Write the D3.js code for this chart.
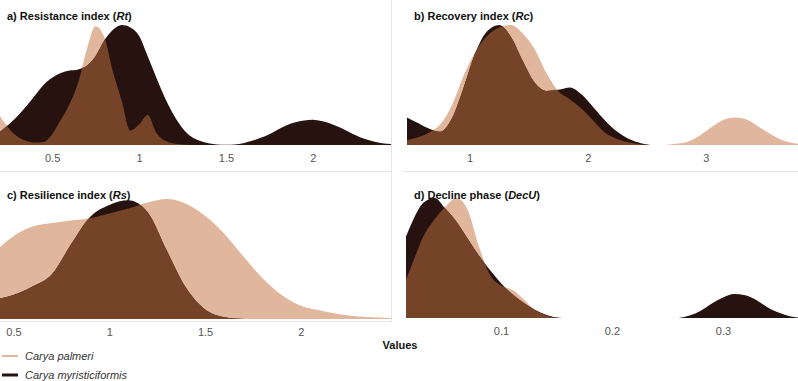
<!DOCTYPE html>
<html>
<head>
<meta charset="utf-8">
<script src="https://cdn.jsdelivr.net/npm/d3@7"></script>
<style>
  body { margin: 0; background: #fff; }
  svg text { font-family: "Liberation Sans", Arial, sans-serif; }
</style>
</head>
<body>
<div id="chart"></div>
<script>
const colPalmeri = "#e0b69c", colMyr = "#26130f", colBoth = "#754328";

// a) Resistance index (Rt)
const rtX = [0.2,0.25,0.3,0.35,0.4,0.45,0.5,0.55,0.6,0.65,0.7,0.75,0.8,0.85,0.9,0.95,1,1.05,1.1,1.15,1.2,1.25,1.3,1.35,1.4,1.45,1.5,1.55,1.6,1.65,1.7,1.75,1.8,1.85,1.9,1.95,2,2.05,2.1,2.15,2.2,2.25,2.3,2.35,2.4,2.45];
const rtMyr = [0.11,0.17,0.24,0.32,0.41,0.5,0.56,0.6,0.62,0.63,0.66,0.74,0.87,0.96,1,0.98,0.91,0.74,0.56,0.39,0.25,0.14,0.07,0.035,0.015,0.005,0.003,0.005,0.015,0.035,0.06,0.09,0.13,0.165,0.19,0.205,0.21,0.2,0.18,0.15,0.115,0.08,0.05,0.03,0.015,0.008];
const rtPalmeri = [0.24,0.14,0.07,0.035,0.02,0.025,0.09,0.21,0.34,0.52,0.8,0.99,0.9,0.61,0.37,0.12,0.17,0.25,0.1,0.035,0.012,0.004,0,
  null,null,null,null,null,null,null,null,null,null,null,null,null,null,null,null,null,null,null,null,null,null,null];
const rtTicks = [0.5, 1, 1.5, 2];

// b) Recovery index (Rc)
const rcX = [0.47,0.55,0.65,0.75,0.85,0.95,1.05,1.15,1.25,1.35,1.45,1.55,1.65,1.75,1.85,1.95,2.05,2.15,2.25,2.35,2.45,2.53,2.59,2.65,2.75,2.85,2.95,3.05,3.15,3.25,3.35,3.45,3.55,3.65,3.78];
const rcMyr = [0.23,0.19,0.14,0.11,0.22,0.48,0.77,0.95,1,0.9,0.7,0.52,0.45,0.46,0.48,0.42,0.31,0.2,0.11,0.05,0.015,0,
  null,null,null,null,null,null,null,null,null,null,null,null,null];
const rcPalmeri = [0.04,0.06,0.1,0.17,0.33,0.58,0.78,0.91,0.98,1,0.93,0.8,0.6,0.45,0.38,0.3,0.2,0.1,0.05,0.02,0.005,0,null,0,0.01,0.03,0.08,0.15,0.21,0.23,0.21,0.15,0.09,0.04,0.01];
const rcTicks = [1, 2, 3];

// c) Resilience index (Rs)
const rsX = [0.43,0.5,0.6,0.7,0.8,0.9,1,1.1,1.2,1.3,1.4,1.5,1.6,1.7,1.8,1.9,2,2.1,2.2,2.3,2.4,2.47];
const rsPalmeri = [0.6,0.69,0.77,0.8,0.82,0.84,0.88,0.92,0.97,1,0.96,0.86,0.71,0.52,0.34,0.2,0.11,0.07,0.04,0.02,0.012,0.008];
const rsMyr = [0.17,0.2,0.27,0.37,0.62,0.85,0.95,0.99,0.89,0.57,0.26,0.08,0.015,0,null,null,null,null,null,null,null,null];
const rsTicks = [0.5, 1, 1.5, 2];

// d) Decline phase (DecU)
const decX = [0.0144,0.02,0.03,0.04,0.05,0.06,0.07,0.08,0.09,0.1,0.11,0.12,0.13,0.14,0.15,0.16,0.2,0.26,0.27,0.28,0.29,0.3,0.31,0.32,0.33,0.34,0.35,0.36,0.3676];
const decMyr = [0.68,0.8,0.96,1,0.91,0.8,0.66,0.52,0.4,0.29,0.2,0.13,0.07,0.03,0.005,0,null,0,0.02,0.06,0.12,0.17,0.2,0.19,0.15,0.09,0.045,0.015,0.005];
const decPalmeri = [0.32,0.45,0.68,0.82,0.93,1,0.9,0.6,0.36,0.27,0.235,0.16,0.07,0.025,0.003,0,null,null,null,null,null,null,null,null,null,null,null,null,null];
const decTicks = [0.1, 0.2, 0.3];

const legendLabels = ["Carya palmeri", "Carya myristiciformis"];

const width = 798, height = 381;

const svg = d3.select("#chart")
    .append("svg")
    .attr("width", width)
    .attr("height", height);

const defs = svg.append("defs");

// panel frames
const grid = svg.append("g").attr("stroke", "#e6e6e6").attr("stroke-width", 1);
grid.append("line").attr("x1", 391.5).attr("x2", 391.5).attr("y1", 0).attr("y2", 321);
grid.append("line").attr("x1", 0).attr("x2", 391.5).attr("y1", 171.5).attr("y2", 171.5);
grid.append("line").attr("x1", 403).attr("x2", 798).attr("y1", 171.5).attr("y2", 171.5);
grid.append("line").attr("x1", 0).attr("x2", 391.5).attr("y1", 321.5).attr("y2", 321.5);

const panels = [
  {id: "rt", title: ["a) Resistance index (", "Rt", ")"], xs: rtX, pal: rtPalmeri, myr: rtMyr, ticks: rtTicks,
   domain: [0.2, 2.45], range: [0, 391], base: 145, tx: 7, ty: 20},
  {id: "rc", title: ["b) Recovery index (", "Rc", ")"], xs: rcX, pal: rcPalmeri, myr: rcMyr, ticks: rcTicks,
   domain: [0.47, 3.78], range: [407, 798], base: 145, tx: 414, ty: 20},
  {id: "rs", title: ["c) Resilience index (", "Rs", ")"], xs: rsX, pal: rsPalmeri, myr: rsMyr, ticks: rsTicks,
   domain: [0.43, 2.47], range: [0, 391], base: 319, tx: 7, ty: 199},
  {id: "dec", title: ["d) Decline phase (", "DecU", ")"], xs: decX, pal: decPalmeri, myr: decMyr, ticks: decTicks,
   domain: [0.0144, 0.3676], range: [406, 798], base: 318, tx: 414, ty: 199}
];

panels.forEach(function(p) {
  var x = d3.scaleLinear().domain(p.domain).range(p.range);
  var y = d3.scaleLinear().domain([0, 1]).range([p.base, p.base - 120]);

  var area = function(vals) {
    return d3.area()
      .defined(function(d, i) { return vals[i] != null; })
      .x(function(d) { return x(d); })
      .y0(p.base)
      .y1(function(d, i) { return y(vals[i]); })
      .curve(d3.curveMonotoneX)(p.xs);
  };

  // overlap = myristiciformis clipped to palmeri
  defs.append("clipPath").attr("id", "clip-" + p.id)
    .append("path").attr("d", area(p.pal));

  var g = svg.append("g");
  g.append("path").attr("d", area(p.pal)).attr("fill", colPalmeri);
  g.append("path").attr("d", area(p.myr)).attr("fill", colMyr);
  g.append("path").attr("d", area(p.myr)).attr("fill", colBoth)
    .attr("clip-path", "url(#clip-" + p.id + ")");

  var ax = g.append("g")
    .attr("transform", "translate(0," + p.base + ")")
    .call(d3.axisBottom(x).tickValues(p.ticks).tickSize(0).tickPadding(9).tickFormat(d3.format("")));
  ax.select(".domain").remove();
  ax.selectAll("text")
    .style("font-size", "11px")
    .attr("fill", "#555");

  var t = g.append("text")
    .attr("x", p.tx).attr("y", p.ty)
    .style("font-size", "11px")
    .style("font-weight", "bold")
    .attr("fill", "#111");
  t.append("tspan").text(p.title[0]);
  t.append("tspan").style("font-style", "italic").text(p.title[1]);
  t.append("tspan").text(p.title[2]);
});

svg.append("text")
  .attr("x", 400).attr("y", 349)
  .attr("text-anchor", "middle")
  .style("font-size", "11px")
  .style("font-weight", "bold")
  .attr("fill", "#111")
  .text("Values");

// legend
const legend = svg.append("g");
legendLabels.forEach(function(lab, i) {
  var ly = 356 + i * 19;
  legend.append("line")
    .attr("x1", 2).attr("x2", 18).attr("y1", ly).attr("y2", ly)
    .attr("stroke", i == 0 ? colPalmeri : colMyr)
    .attr("stroke-width", i == 0 ? 2 : 3);
  legend.append("text")
    .attr("x", 25).attr("y", ly + 4)
    .style("font-size", "11px")
    .style("font-style", "italic")
    .attr("fill", "#333")
    .text(lab);
});
</script>
</body>
</html>
